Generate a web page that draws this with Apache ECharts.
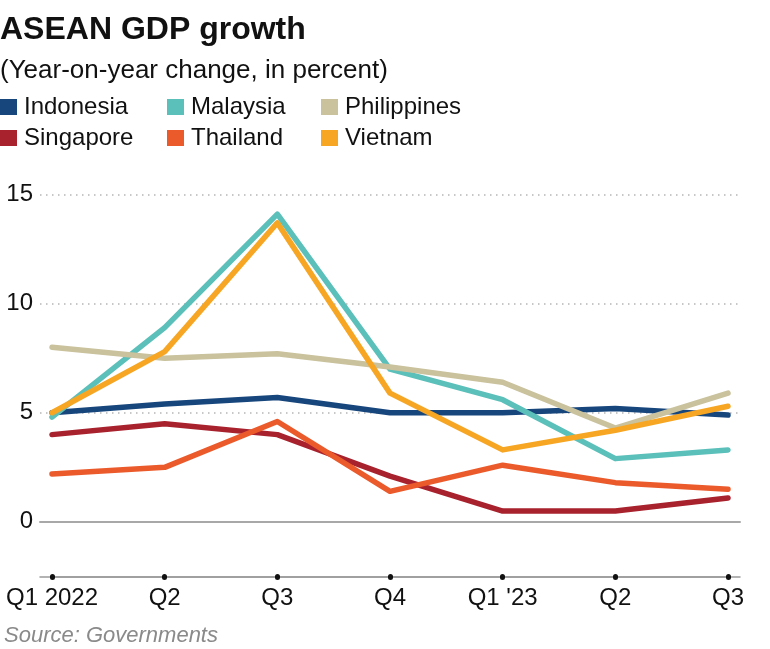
<!DOCTYPE html>
<html>
<head>
<meta charset="utf-8">
<script src="https://cdn.jsdelivr.net/npm/echarts@6/dist/echarts.min.js"></script>
<style>
html,body{margin:0;padding:0;background:#fff;}
#chart{width:770px;height:649px;}
</style>
</head>
<body>
<div id="chart"></div>
<script>
var categories = ['Q1 2022', 'Q2', 'Q3', 'Q4', "Q1 '23", 'Q2', 'Q3'];
var indonesia   = [5.0, 5.4, 5.7, 5.0, 5.0, 5.2, 4.9];
var malaysia    = [4.8, 8.9, 14.1, 7.0, 5.6, 2.9, 3.3];
var philippines = [8.0, 7.5, 7.7, 7.1, 6.4, 4.3, 5.9];
var singapore   = [4.0, 4.5, 4.0, 2.1, 0.5, 0.5, 1.1];
var thailand    = [2.2, 2.5, 4.6, 1.4, 2.6, 1.8, 1.5];
var vietnam     = [5.0, 7.8, 13.7, 5.9, 3.3, 4.2, 5.3];
var yTicks = [0, 5, 10, 15];

var FONT = '"Liberation Sans", Arial, Helvetica, sans-serif';
var colors = {
  Indonesia: '#17467d',
  Malaysia: '#5bbfba',
  Philippines: '#c9c29d',
  Singapore: '#a8222e',
  Thailand: '#eb5a2b',
  Vietnam: '#f6a623'
};

function mkSeries(name, data) {
  return {
    name: name, type: 'line', data: data, xAxisIndex: 0, yAxisIndex: 0,
    symbol: 'none', smooth: false,
    itemStyle: { color: colors[name] },
    lineStyle: { width: 5.5, color: colors[name], cap: 'round', join: 'round' },
    emphasis: { disabled: true }
  };
}

function mkLegend(names, left) {
  return {
    data: names, left: left, top: 95, orient: 'vertical', padding: 0,
    icon: 'rect', itemWidth: 17, itemHeight: 16, itemGap: 7,
    selectedMode: false,
    textStyle: { fontFamily: FONT, fontSize: 24, color: '#111', lineHeight: 24, padding: [0, 0, 0, 2] }
  };
}

var chart = echarts.init(document.getElementById('chart'), null, { renderer: 'canvas' });
chart.setOption({
  animation: false,
  backgroundColor: '#fff',
  title: [
    { text: 'ASEAN GDP growth', left: 0, top: 14, padding: 0,
      textStyle: { fontFamily: FONT, fontSize: 32, fontWeight: 'bold', color: '#111' } },
    { text: '(Year-on-year change, in percent)', left: 0, top: 58, padding: 0,
      textStyle: { fontFamily: FONT, fontSize: 26, fontWeight: 'normal', color: '#111' } },
    { text: 'Source: Governments', left: 4, top: 625, padding: 0,
      textStyle: { fontFamily: FONT, fontSize: 22, fontWeight: 'normal', fontStyle: 'italic', color: '#8a8a8a' } }
  ],
  legend: [
    mkLegend(['Indonesia', 'Singapore'], 0),
    mkLegend(['Malaysia', 'Thailand'], 167),
    mkLegend(['Philippines', 'Vietnam'], 321)
  ],
  grid: [
    { left: 52, right: 42, top: 194.5, bottom: 72.5 },
    { left: 40, right: 30, top: 194.5, bottom: 127.5 },
    { left: 40, right: 30, top: 194.5, bottom: 72.5 }
  ],
  xAxis: [
    { type: 'category', gridIndex: 0, data: categories, boundaryGap: false, position: 'bottom',
      axisLine: { show: true, onZero: false, lineStyle: { color: '#9a9a9a', width: 1.5 } },
      axisTick: { show: true, alignWithLabel: true, length: 1, lineStyle: { color: '#111', width: 5, cap: 'round' } },
      axisLabel: { fontFamily: FONT, fontSize: 24, color: '#111', margin: 10, interval: 0 },
      splitLine: { show: false } },
    { type: 'value', gridIndex: 1, min: 0, max: 1, position: 'bottom',
      axisLine: { show: true, onZero: false, lineStyle: { color: '#a8a8a8', width: 2 } },
      axisTick: { show: false }, axisLabel: { show: false }, splitLine: { show: false } },
    { type: 'value', gridIndex: 2, min: 0, max: 1, position: 'bottom',
      axisLine: { show: true, onZero: false, lineStyle: { color: '#9a9a9a', width: 1.5 } },
      axisTick: { show: false }, axisLabel: { show: false }, splitLine: { show: false } }
  ],
  yAxis: [
    { type: 'value', gridIndex: 0, min: -2.5, max: 15, show: false },
    { type: 'value', gridIndex: 1, min: yTicks[0], max: yTicks[yTicks.length - 1], interval: 5,
      axisLine: { show: false }, axisTick: { show: false },
      axisLabel: { fontFamily: FONT, fontSize: 24, color: '#111', margin: 7 },
      splitLine: { show: true, lineStyle: { color: '#b5b5b5', width: 1.5, type: [1.5, 4.5] } } },
    { type: 'value', gridIndex: 2, min: 0, max: 1, show: false }
  ],
  series: [
    mkSeries('Indonesia', indonesia),
    mkSeries('Malaysia', malaysia),
    mkSeries('Philippines', philippines),
    mkSeries('Singapore', singapore),
    mkSeries('Thailand', thailand),
    mkSeries('Vietnam', vietnam)
  ]
});
</script>
</body>
</html>
